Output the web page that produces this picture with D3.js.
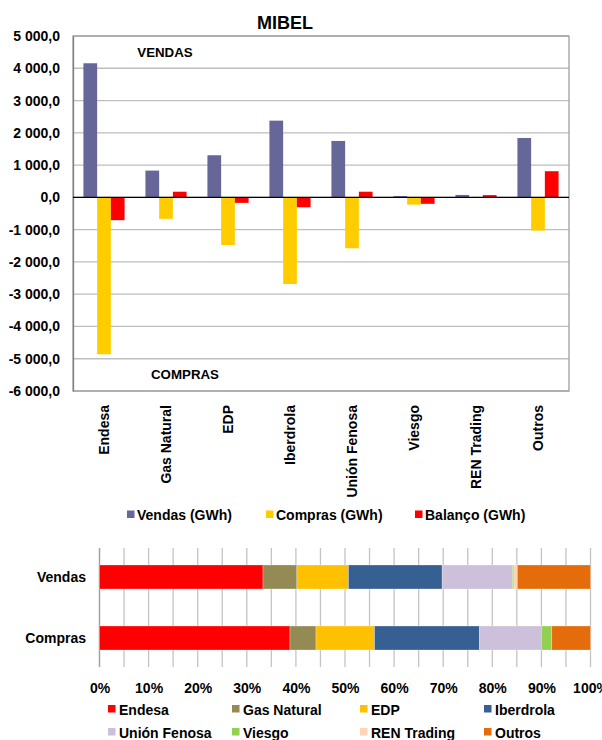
<!DOCTYPE html>
<html>
<head>
<meta charset="utf-8">
<script src="https://cdn.jsdelivr.net/npm/d3@7"></script>
<style>
body{margin:0;background:#fff;}
text{font-family:"Liberation Sans",Arial,sans-serif;font-weight:bold;fill:#000;}
</style>
</head>
<body>
<svg id="chart" width="602" height="740"></svg>
<script>
const categories = ["Endesa","Gas Natural","EDP","Iberdrola","Unión Fenosa","Viesgo","REN Trading","Outros"];
const vendas  = [4155, 830, 1305, 2377, 1748, 40, 75, 1840];
const compras = [-4862, -665, -1475, -2684, -1578, -225, 0, -1030];
const balanco = [-707, 175, -170, -307, 175, -200, 70, 810];
const seriesNames = ["Vendas (GWh)","Compras (GWh)","Balanço (GWh)"];
const seriesColors = ["#666699","#FFCC00","#FF0000"];
const yTicks = [5000,4000,3000,2000,1000,0,-1000,-2000,-3000,-4000,-5000,-6000];

const rows = ["Vendas","Compras"];
const vendasShare  = [33.3, 6.9, 10.5, 19.1, 14.3, 0.3, 0.7, 14.9];
const comprasShare = [38.8, 5.3, 11.9, 21.4, 12.6, 2.1, 0.0, 7.9];
const companyColors = ["#FF0000","#948A54","#FFC000","#366092","#CCC0DA","#92D050","#FCD5B4","#E46C0A"];
const pctTicks = [0,0.1,0.2,0.3,0.4,0.5,0.6,0.7,0.8,0.9,1.0];

const FONT = "'Liberation Sans',Arial,sans-serif";
const svg = d3.select("#chart");
const loc = d3.formatLocale({decimal:",", thousands:" ", grouping:[3], currency:["",""], minus:"-"});
const fmt = loc.format(",.1f");

// ---------- top chart ----------
const L = 73, R = 569, T = 36, B = 391;
const x0 = d3.scaleBand().domain(categories).range([L, R]).paddingInner(0).paddingOuter(0);
const x1 = d3.scaleBand().domain(d3.range(3)).range([0, x0.bandwidth()]).paddingInner(0).paddingOuter(0.76);
const y = d3.scaleLinear().domain([-6000, 5000]).range([B, T]);

svg.append("text").attr("x", 285).attr("y", 29).attr("text-anchor","middle")
  .style("font-size","18px").text("MIBEL");

// gridlines
svg.append("g").selectAll("line").data(yTicks).join("line")
  .attr("x1", L).attr("x2", R).attr("y1", d=>y(d)).attr("y2", d=>y(d))
  .attr("stroke", "#BEBEBE").attr("stroke-width", 1.3);

// plot border
svg.append("rect").attr("x", L).attr("y", T).attr("width", R-L).attr("height", B-T)
  .attr("fill","none").attr("stroke","#A0A0A0").attr("stroke-width",1.3);

// y axis
const yAxis = d3.axisLeft(y).tickValues(yTicks).tickFormat(fmt).tickSize(0).tickPadding(13);
const ga = svg.append("g").attr("transform", `translate(${L},0)`).call(yAxis);
ga.select(".domain").attr("stroke","#808080").attr("stroke-width",1.3);
ga.selectAll("text").style("font-size","14px").style("font-family",FONT).attr("fill","#000");

// bars
const seriesData = [vendas, compras, balanco];
seriesData.forEach((arr, si) => {
  svg.append("g").selectAll("rect").data(arr).join("rect")
    .attr("x", (d,i) => x0(categories[i]) + x1(si))
    .attr("width", x1.bandwidth())
    .attr("y", d => y(Math.max(0,d)))
    .attr("height", d => Math.abs(y(d) - y(0)))
    .attr("fill", seriesColors[si]);
});

// zero line
svg.append("line").attr("x1", L).attr("x2", R).attr("y1", y(0)).attr("y2", y(0))
  .attr("stroke","#000").attr("stroke-width",1.2);

svg.append("text").attr("x", 165).attr("y", 57).attr("text-anchor","middle").style("font-size","13.3px").text("VENDAS");
svg.append("text").attr("x", 185).attr("y", 379).attr("text-anchor","middle").style("font-size","13.3px").text("COMPRAS");

// x labels
const xAxis = d3.axisBottom(x0).tickSize(0).tickPadding(0);
const gx = svg.append("g").attr("transform", `translate(0,${B})`).call(xAxis);
gx.select(".domain").remove();
gx.selectAll("text")
  .attr("transform","rotate(-90)")
  .attr("x", -14).attr("y", 0).attr("dy","0.35em")
  .attr("text-anchor","end")
  .style("font-size","14px").style("font-family",FONT).attr("fill","#000");

// top legend
const legX = [127, 266, 415];
const lg = svg.append("g").selectAll("g").data(seriesNames).join("g")
  .attr("transform", (d,i) => `translate(${legX[i]},510.5)`);
lg.append("rect").attr("width",7.5).attr("height",7.5).attr("fill",(d,i)=>seriesColors[i]);
lg.append("text").attr("x",10).attr("y",9).style("font-size","14px").text(d=>d);

// ---------- bottom chart ----------
const L2 = 99.5, R2 = 590.5, T2 = 548, B2 = 667;
const xp = d3.scaleLinear().domain([0,1]).range([L2, R2]);
const yb = d3.scalePoint().domain(rows).range([T2, B2]).padding(0.475);
const barH = 24;

const minor = d3.range(0, 1.0001, 0.05);
svg.append("g").selectAll("line").data(minor).join("line")
  .attr("x1", d=>xp(d)).attr("x2", d=>xp(d)).attr("y1", T2).attr("y2", B2)
  .attr("stroke", "#C4C4C4").attr("stroke-width", 1.3);
svg.append("line").attr("x1", L2).attr("x2", L2).attr("y1", T2).attr("y2", B2)
  .attr("stroke","#A0A0A0").attr("stroke-width",1.3);

const shares = [vendasShare, comprasShare];
shares.forEach((arr, ri) => {
  const total = d3.sum(arr);
  const cum = d3.cumsum(arr);
  svg.append("g").selectAll("rect").data(arr).join("rect")
    .attr("x", (d,i) => xp((cum[i]-d)/total))
    .attr("width", d => xp(d/total) - xp(0))
    .attr("y", yb(rows[ri]) - barH/2)
    .attr("height", barH)
    .attr("fill", (d,i) => companyColors[i])
    .attr("stroke", "rgba(255,255,255,0.35)").attr("stroke-width", 0.8);
});

const gy2 = svg.append("g").attr("transform", `translate(${L2},0)`).call(d3.axisLeft(yb).tickSize(0).tickPadding(13.5));
gy2.select(".domain").remove();
gy2.selectAll("text").style("font-size","14px").style("font-family",FONT).attr("fill","#000");

const gx2 = svg.append("g").attr("transform", `translate(0,${B2})`)
  .call(d3.axisBottom(xp).tickValues(pctTicks).tickFormat(d3.format(".0%")).tickSize(0).tickPadding(16));
gx2.select(".domain").remove();
gx2.selectAll("text").style("font-size","14px").style("font-family",FONT).attr("fill","#000");

// bottom legend
const colX = [108, 232, 360, 484];
const lg2 = svg.append("g").selectAll("g").data(categories).join("g")
  .attr("transform", (d,i) => `translate(${colX[i%4]},${i<4 ? 705 : 728})`);
lg2.append("rect").attr("width",7.5).attr("height",7.5).attr("fill",(d,i)=>companyColors[i]);
lg2.append("text").attr("x",11).attr("y",9.5).style("font-size","14px").text(d=>d);
</script>
</body>
</html>
